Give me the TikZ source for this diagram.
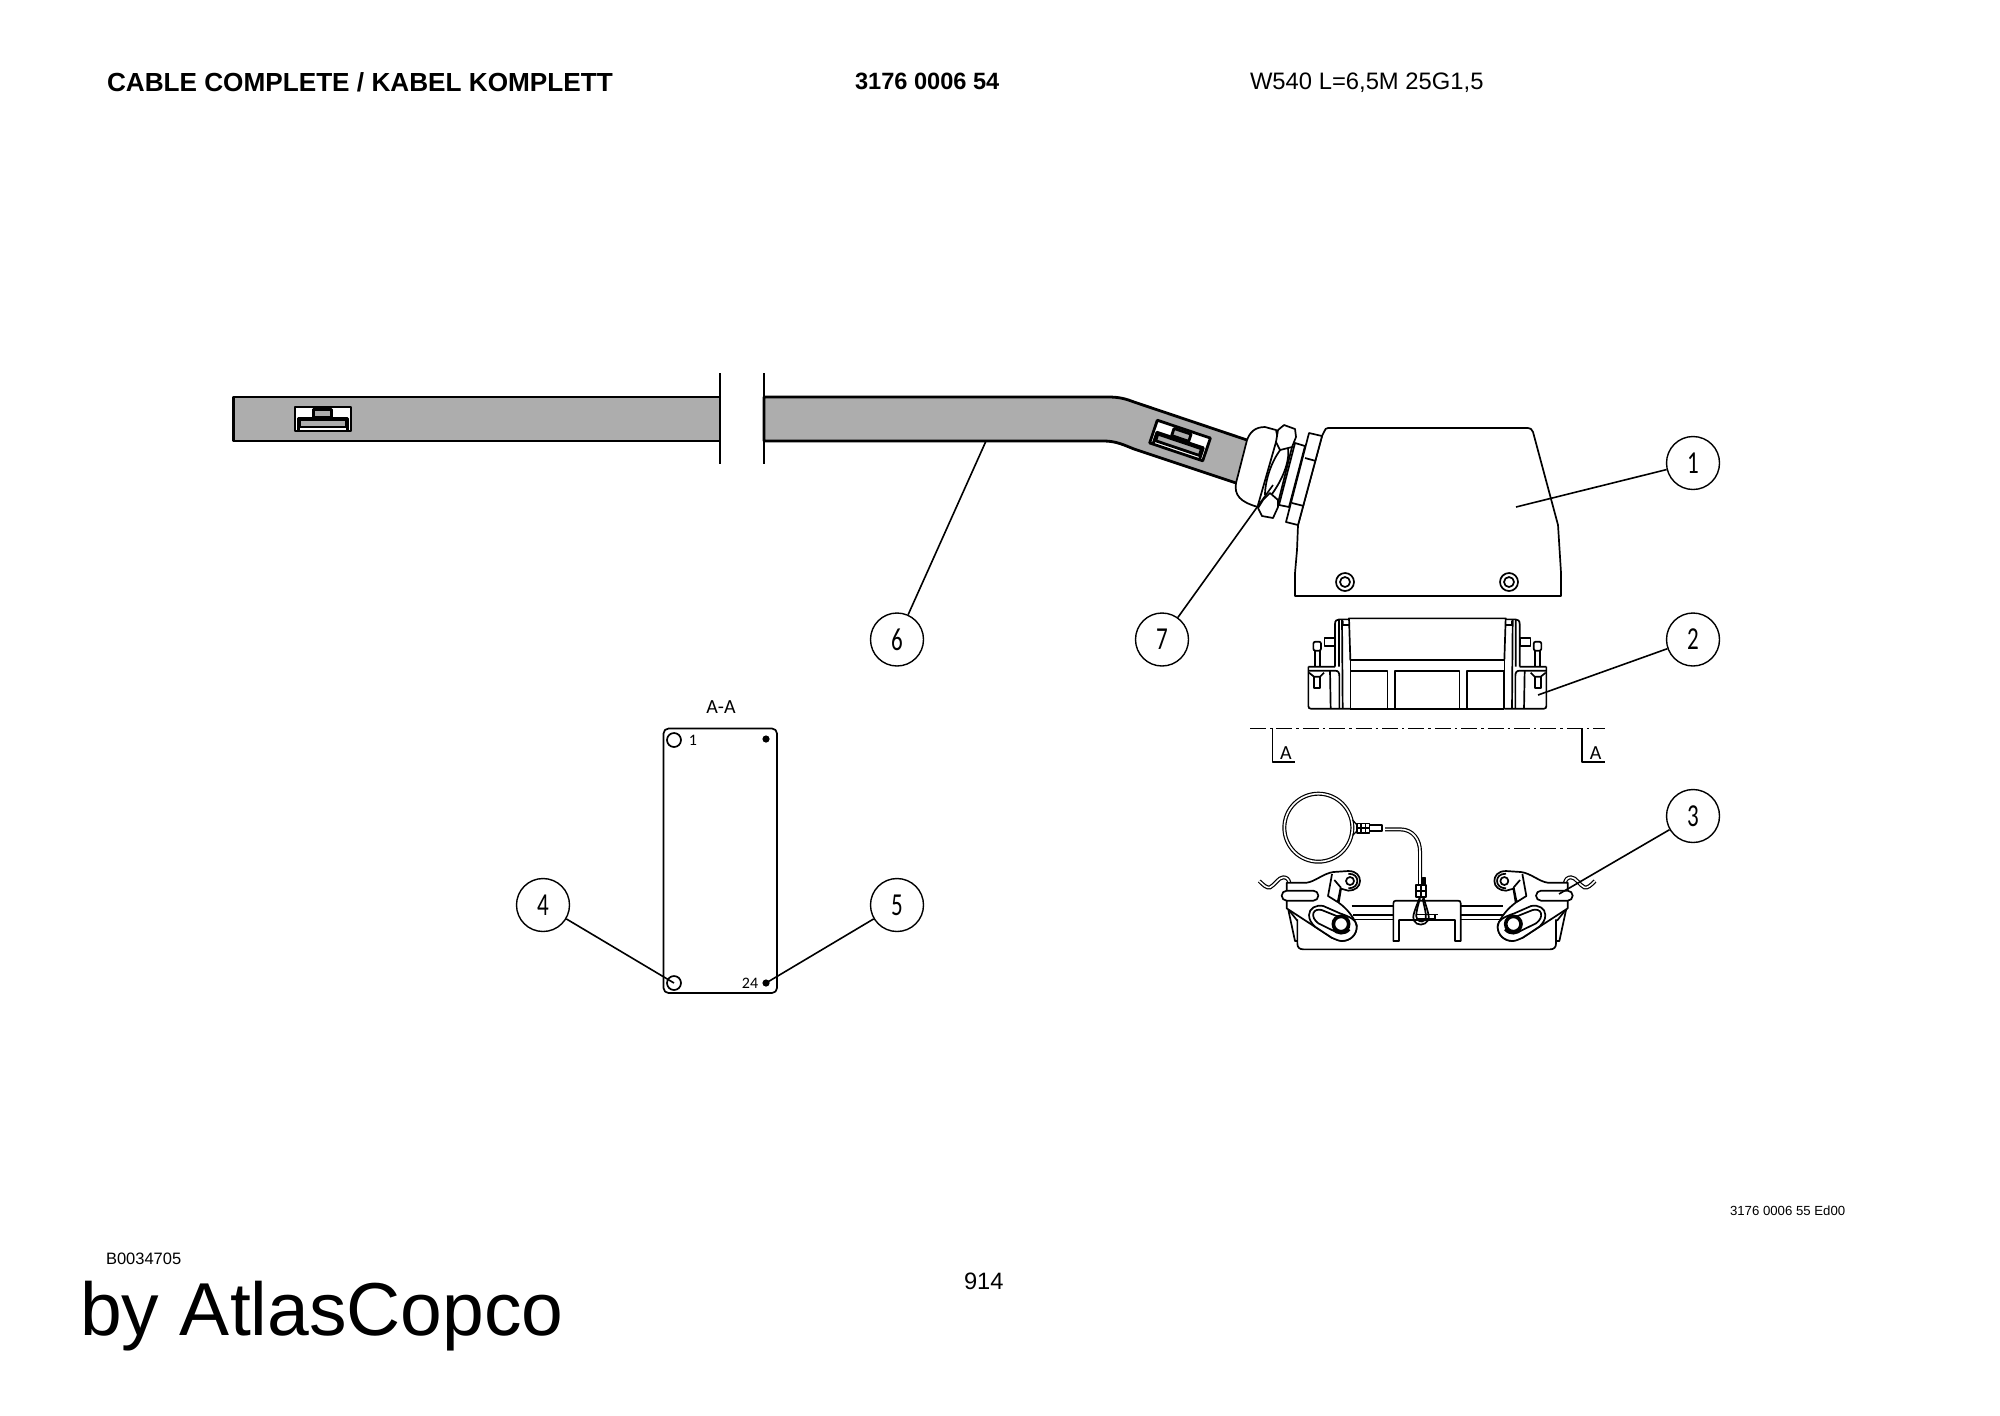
\documentclass[tikz,border=0pt]{standalone}
\usepackage{fontspec}
\setmainfont{Liberation Sans}
\newfontfamily\drawfont{Carlito}
\newfontfamily\numfont[FakeStretch=0.72]{Carlito}
\definecolor{cablegray}{HTML}{ADADAD}
\tikzset{
 x=0.5pt,y=-0.5pt,
 ink/.style={line width=0.85pt,line join=round},
 fine/.style={line width=0.6pt,line join=round},
 heavy/.style={line width=1.4pt,line join=round},
 balloon/.style={circle,draw,line width=0.7pt,minimum size=26.5pt,inner sep=0pt,font=\numfont\fontsize{16}{16}\selectfont},
 leader/.style={line width=0.8pt},
 txt/.style={anchor=base west,inner sep=0pt,outer sep=0pt},
 label/.style={inner sep=0pt,outer sep=0pt,font=\drawfont\fontsize{10}{10}\selectfont},
 smalllabel/.style={inner sep=0pt,outer sep=0pt,font=\drawfont\fontsize{8}{8}\selectfont},
 wire/.style={line width=0.6pt,double=white,double distance=0.8pt},
 zoomtwo/.style={shift={(1240,600)},x=0.16667pt,y=-0.16667pt},
 zoomthree/.style={shift={(1240,770)},x=0.16667pt,y=-0.16667pt},
 clipmark/.pic={
  \draw[fill=white,heavy] (-28,-12) rectangle (28,12);
  \draw[fill=cablegray,heavy] (-9.5,-9.5) rectangle (8.5,-2);
  \draw[heavy] (-24.5,12) -- (-24.5,-0.5) -- (24.5,-0.5) -- (24.5,12);
  \draw[fill=cablegray,heavy] (-23,1) rectangle (23,8);
 }
}
\newcommand{\sidetwo}{%
 \draw[ink,fill=white,rounded corners=1pt] (220,125) rectangle (243,152);
 \draw[ink] (225,152) -- (225,200) (240,152) -- (240,200);
 \draw[ink,fill=white] (253,113) rectangle (284,138);
 \draw[ink] (285,200) -- (285,72) .. controls (285,62) and (290,58) .. (298,58) -- (327,58);
 \draw[ink] (297,60) -- (297,200) (306,60) -- (308,325) (308,62) -- (308,75) -- (328,75);
 \draw[ink] (205,200) -- (285,200) (205,212) -- (285,212) .. controls (295,212) and (298,218) .. (298,228) -- (298,325);
 \draw[ink] (205,200) -- (205,318) .. controls (205,323) and (208,326) .. (212,326) -- (331,326);
 \draw[ink] (270,212) -- (272,326);
 \draw[ink] (207,218) -- (222,230) -- (240,230) -- (252,218);
 \draw[ink] (222,230) -- (222,263) -- (240,263) -- (240,230);
 \draw[ink] (331,180) -- (331,326);
}
\newcommand{\sidethree}{%
 \draw[ink] (145,420) -- (165,513) -- (172,513);
 \draw[ink] (148,422) -- (172,452);
 \draw[wire] (58,333) .. controls (70,345) and (80,355) .. (90,352) .. controls (105,345) and (115,322) .. (130,322) .. controls (140,322) and (146,328) .. (148,338);
 \draw[ink,fill=white] (140,338) -- (200,338) .. controls (225,335) and (250,310) .. (280,306) -- (325,303) .. controls (350,303) and (360,318) .. (360,333) .. controls (360,350) and (345,362) .. (325,362) -- (303,356) -- (296,398) .. controls (320,415) and (340,440) .. (350,465) .. controls (352,495) and (330,513) .. (305,513) -- (275,503) -- (140,415) -- cycle;
 \draw[ink] (325,311) .. controls (345,311) and (352,322) .. (352,333) .. controls (352,345) and (342,355) .. (325,355);
 \draw[ink] (330,333) circle[radius=12];
 \draw[ink,fill=white] (276,312) -- (264,378) -- (293,396) -- (302,352) -- (283,330);
 \draw[ink,fill=white,rounded corners=2.5pt] (125,362) rectangle (235,392);
 \draw[ink,fill=white] (207,435) .. controls (207,415) and (228,403) .. (250,408) -- (300,430) .. controls (330,440) and (350,450) .. (350,470) .. controls (350,495) and (330,513) .. (305,513) .. controls (295,513) and (285,507) .. (275,503) -- (225,470) .. controls (215,460) and (207,450) .. (207,435) -- cycle;
 \draw[ink,fill=white] (220,430) .. controls (222,420) and (235,417) .. (245,420) -- (300,442) -- (290,487) -- (235,460) .. controls (222,450) and (218,440) .. (220,430) -- cycle;
 \draw[line width=1.8pt,fill=white] (303,462) circle[radius=23];
 \draw[line width=1.3pt] (280,478) .. controls (290,492) and (315,495) .. (328,478);
}
\begin{document}
\begin{tikzpicture}
\useasboundingbox (0,0) rectangle (2000,1415);
\fill[white] (0,0) rectangle (2000,1415);
% titles
\node[txt,font=\bfseries\fontsize{13.08}{13}\selectfont] (title) at (107,91) {CABLE COMPLETE / KABEL KOMPLETT};
\node[txt,font=\bfseries\fontsize{11.8}{12}\selectfont] (partno) at (855,89) {3176 0006 54};
\node[txt,font=\fontsize{11.9}{12}\selectfont] (spec) at (1250,89) {W540 L=6,5M 25G1,5};
\node[txt,font=\fontsize{6.6}{7}\selectfont] (edition) at (1730,1215) {3176 0006 55 Ed00};
\node[txt,font=\fontsize{8.25}{9}\selectfont] (bcode) at (106,1264) {B0034705};
\node[txt,font=\fontsize{37.5}{38}\selectfont] (brand) at (80,1335) {by AtlasCopco};
\node[txt,font=\fontsize{11.85}{12}\selectfont] (pageno) at (964,1289) {914};
% cable
\draw[heavy,fill=cablegray] (233.5,397) rectangle (720,441);
\draw[fill=cablegray,draw=none] (764,397) -- (1108,397) .. controls (1120,397) and (1126,399) .. (1134,402) -- (1247,440) -- (1236,483) -- (1134,449) .. controls (1124,445) and (1116,441) .. (1104,441) -- (764,441) -- cycle;
\draw[heavy] (1247,440) -- (1134,402) .. controls (1126,399) and (1120,397) .. (1108,397) -- (764,397) -- (764,441) -- (1104,441) .. controls (1116,441) and (1124,445) .. (1134,449) -- (1236,483);
\draw[ink] (720,373) -- (720,464) (764,373) -- (764,464);
\pic at (323,419) {clipmark};
\pic[rotate=-18.6] at (1180,440.5) {clipmark};
% gland
\draw[ink,fill=white] (1265,427) .. controls (1255,427) and (1250,432) .. (1247,440) -- (1236,483) .. controls (1234,495) and (1240,502) .. (1258,507) -- (1280,450) -- (1276,430) -- cycle;
\draw[ink,fill=white] (1295,443) -- (1305,446) -- (1289,507) -- (1279,505) -- cycle;
\draw[ink,fill=white] (1276,442) -- (1292,447) -- (1278,503) -- (1258,505) -- cycle;
\draw[ink] (1281,449) .. controls (1272,460) and (1265,480) .. (1265,495);
\draw[ink] (1288,448) .. controls (1290,462) and (1282,480) .. (1272,494);
\draw[ink,fill=white] (1278,430) -- (1284,425) -- (1295,429) -- (1296,437) -- (1292,447) -- (1280,450) -- (1276,442) -- cycle;
\draw[ink,fill=white] (1263,500) -- (1270,493) -- (1278,500) -- (1278,507) -- (1273,518) -- (1262,516) -- (1258,508) -- cycle;
% hood
\draw[ink,fill=white] (1295,596) -- (1295,573) -- (1297,550) -- (1298,525) -- (1322,436) -- (1324,432) .. controls (1325,429) and (1326,428) .. (1328,428) -- (1528,428) .. controls (1530,428) and (1532,429) .. (1533,432) -- (1558,525) -- (1561,573) -- (1561,596) -- cycle;
\draw[ink,fill=white] (1309,433) -- (1322,436) -- (1298,525) -- (1286,522) -- cycle;
\draw[ink] (1305,458) -- (1316,461) (1292,503) -- (1304,506);
\foreach \cx in {1345,1509}{
 \draw[ink] (\cx,582) circle[radius=9];
 \draw[ink] (\cx,582) circle[radius=5];
}
% part 2
\begin{scope}[zoomtwo]
 \draw[ink] (327,55) -- (797,55) -- (793,180) -- (331,180) -- cycle;
 \foreach \a/\b in {331/442,465/658,681/792}{
  \draw[ink] (\a,326) -- (\a,212) -- (\b,212) -- (\b,326);
 }
 \draw[ink] (331,326) -- (793,326);
 \sidetwo
 \begin{scope}[shift={(1124,0)},xscale=-1]
  \sidetwo
 \end{scope}
 \draw[fine,dash pattern=on 8pt off 2pt on 1.2pt off 2pt] (30,385) -- (1095,385);
 \draw[ink] (97,385) -- (97,485) -- (165,485);
 \draw[ink] (1025,385) -- (1025,485) -- (1095,485);
 \node[label] (secl) at (138,458) {A};
 \node[label] (secr) at (1067,458) {A};
\end{scope}
% part 3
\begin{scope}[zoomthree]
 \draw[ink] (172,448) -- (172,520) .. controls (172,532) and (178,538) .. (190,538) -- (930,538) .. controls (942,538) and (948,532) .. (948,520) -- (948,448);
 \draw[ink] (335,407) -- (790,407) (340,435) -- (790,435) (340,448) -- (790,448);
 \draw[ink,fill=white] (460,513) -- (460,400) .. controls (460,394) and (463,392) .. (468,392) -- (654,392) .. controls (659,392) and (662,394) .. (662,400) -- (662,513) -- (645,513) -- (645,450) -- (477,450) -- (477,513) -- cycle;
 \sidethree
 \begin{scope}[shift={(1123,0)},xscale=-1]
  \sidethree
 \end{scope}
 % lanyard
 \draw[wire] (235,173) circle[radius=102];
 \draw[ink,fill=white] (350,160) rectangle (388,188);
 \draw[ink] (362,160) -- (362,188) (376,160) -- (376,188) (350,174) -- (388,174);
 \draw[line width=0.6pt] (338,150) -- (350,164) (338,196) -- (350,184);
 \draw[ink] (388,165) -- (425,165) -- (425,183) -- (388,183);
 \draw[wire] (435,178) -- (480,178) .. controls (520,178) and (540,210) .. (540,245) -- (540,345);
 \draw[ink] (548,345) -- (548,322) -- (554,322) -- (554,345);
 \draw[ink] (540,380) .. controls (525,420) and (515,440) .. (522,452) .. controls (530,468) and (555,468) .. (565,450) .. controls (570,438) and (558,410) .. (550,380);
 \draw[ink] (540,385) .. controls (530,420) and (525,440) .. (532,448) .. controls (540,458) and (552,456) .. (557,445) .. controls (560,430) and (552,410) .. (548,385);
 \draw[ink,fill=white] (527,345) rectangle (557,380);
 \draw[ink] (542,345) -- (542,380) (527,362) -- (557,362);
 \draw[ink] (532,433) -- (595,433) (532,446) -- (585,446) -- (585,433);
\end{scope}
% section A-A
\draw[ink,rounded corners=2.5pt] (663.5,728.5) rectangle (777,993);
\draw[ink] (674,740) circle[radius=7];
\draw[ink] (674,983) circle[radius=7];
\fill (766,739) circle[radius=3.6];
\fill (766,983) circle[radius=3.6];
\node[label] (aa) at (721,707.5) {A-A};
\node[smalllabel] (pin1) at (693,740) {1};
\node[smalllabel] (pin24) at (750,983) {24};
% balloons and leaders
\node[balloon] (b1) at (1693,463) {1};
\node[balloon] (b2) at (1693,639.5) {2};
\node[balloon] (b3) at (1693,816) {3};
\node[balloon] (b4) at (543,905) {4};
\node[balloon] (b5) at (897,905) {5};
\node[balloon] (b6) at (897,639.5) {6};
\node[balloon] (b7) at (1162,639.5) {7};
\coordinate (e1) at (1516,507);
\coordinate (e2) at (1538,695);
\coordinate (e3) at (1559,894);
\coordinate (e4) at (674,983);
\coordinate (e5) at (766,983);
\coordinate (e6) at (986,441);
\coordinate (e7) at (1273,485);
\foreach \n in {1,...,7}{
 \draw[leader] (b\n) -- (e\n);
}
\end{tikzpicture}
\end{document}
